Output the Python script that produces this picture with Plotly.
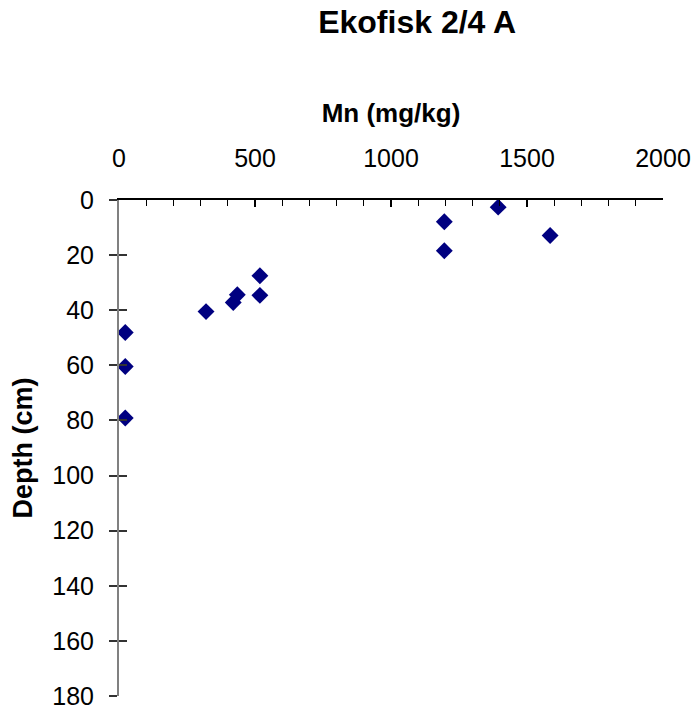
import plotly.graph_objects as go

# Manganese concentration profile against sediment depth
mn_mg_kg = [1394, 1196, 1585, 1196, 518, 518, 435, 420, 320, 23, 23, 23]
depth_cm = [2.6, 7.9, 12.9, 18.4, 27.5, 34.6, 34.4, 37.2, 40.5, 48.1, 60.4, 79.1]

x_tick_vals = [0, 500, 1000, 1500, 2000]
y_tick_vals = [0, 20, 40, 60, 80, 100, 120, 140, 160, 180]

FONT = "Arial, Liberation Sans, sans-serif"

fig = go.Figure()
fig.add_trace(go.Scatter(
    x=mn_mg_kg, y=depth_cm, mode="markers",
    marker=dict(symbol="diamond", size=13, color="#000080",
                line=dict(width=0)),
    showlegend=False,
))
# companion axis carrying the inward half of the crossing depth ticks
fig.add_trace(go.Scatter(x=[None], y=[None], yaxis="y2",
                         showlegend=False, hoverinfo="skip"))

fig.update_layout(
    width=693, height=711,
    margin=dict(l=119, r=30, t=200, b=15, autoexpand=False),
    paper_bgcolor="white", plot_bgcolor="white",
    font=dict(family=FONT, size=25, color="black"),
    title=dict(text="<b>Ekofisk 2/4 A</b>", x=0.602, xref="container",
               xanchor="center", y=1 - 22 / 711, yref="container",
               yanchor="middle", font=dict(size=32, family=FONT)),
    xaxis=dict(
        side="top", range=[0, 2000], tickvals=x_tick_vals,
        ticks="inside", ticklen=7, tickwidth=2, tickcolor="black",
        minor=dict(dtick=100, ticks="inside", ticklen=6, tickwidth=1,
                   tickcolor="black"),
        showline=True, linecolor="black", linewidth=1.5,
        showgrid=False, zeroline=False, automargin=False,
        ticklabelstandoff=21,
        title=dict(text="<b>Mn (mg/kg)</b>", standoff=14,
                   font=dict(size=26)),
    ),
    yaxis=dict(
        range=[180, 0], tickvals=y_tick_vals,
        ticks="outside", ticklen=8, tickwidth=1.5, tickcolor="#333333",
        showline=True, linecolor="#808080", linewidth=2,
        showgrid=False, zeroline=False, automargin=False,
        ticklabelstandoff=10,
        title=dict(text="<b>Depth (cm)</b>", standoff=12,
                   font=dict(size=27)),
    ),
    yaxis2=dict(
        overlaying="y", anchor="x", side="left", range=[180, 0],
        tickvals=y_tick_vals, ticks="inside", ticklen=8, tickwidth=1.5,
        tickcolor="#333333", showticklabels=False, showline=False,
        showgrid=False, zeroline=False, automargin=False,
    ),
)

fig.write_html("out.html")
